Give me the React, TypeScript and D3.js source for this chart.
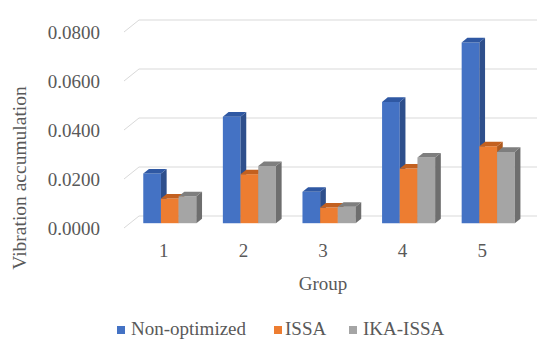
import React from "react";
import * as d3 from "d3";

const categories = ["1", "2", "3", "4", "5"];
const seriesNames = ["Non-optimized", "ISSA", "IKA-ISSA"];
const nonOptimized = [0.0203, 0.0435, 0.0128, 0.0495, 0.0738];
const issa = [0.0101, 0.0200, 0.0064, 0.0223, 0.0314];
const ikaIssa = [0.0110, 0.0233, 0.0067, 0.0268, 0.0291];
const yTicks = [0, 0.02, 0.04, 0.06, 0.08];

const seriesValues = [nonOptimized, issa, ikaIssa];
const frontColors = ["#4472C4", "#ED7D31", "#A5A5A5"];
const topColors = ["#2F58A3", "#C3601F", "#7E7E7E"];
const sideColors = ["#2E4F8C", "#AE5A20", "#6E6E6E"];

const W = 550;
const H = 346;
const TEXT = "#595959";
const textStyle: React.CSSProperties = { fontFamily: "Liberation Serif, Times New Roman, DejaVu Serif, serif" };

// oblique projection parameters
const floorLeft = 124;
const floorRight = 522;
const floorFrontY = 228;
const depthDX = 15;
const depthDY = 12;
const barDepthA = 0.4;
const barDepthB = 0.78;

export default function App() {
  const x = d3.scaleBand<string>().domain(categories).range([floorLeft, floorRight]).padding(0);
  const sub = d3
    .scaleBand<string>()
    .domain(seriesNames)
    .range([0, x.bandwidth()])
    .paddingInner(0)
    .paddingOuter(0.75);
  const y = d3.scaleLinear().domain([0, 0.08]).range([0, 196]);

  const proj = (px: number, v: number, f: number): [number, number] => [
    px + depthDX * f,
    floorFrontY - depthDY * f - y(v),
  ];
  const pts = (arr: [number, number][]) => arr.map((p) => p.join(",")).join(" ");

  const bars: React.ReactNode[] = [];
  categories.forEach((c, ci) => {
    seriesNames.forEach((s, si) => {
      const v = seriesValues[si][ci];
      const x0 = (x(c) as number) + (sub(s) as number);
      const x1 = x0 + sub.bandwidth();
      const a = barDepthA;
      const b = barDepthB;
      const front = [proj(x0, 0, a), proj(x1, 0, a), proj(x1, v, a), proj(x0, v, a)] as [number, number][];
      const side = [proj(x1, 0, a), proj(x1, 0, b), proj(x1, v, b), proj(x1, v, a)] as [number, number][];
      const top = [proj(x0, v, a), proj(x1, v, a), proj(x1, v, b), proj(x0, v, b)] as [number, number][];
      bars.push(
        <g key={`${ci}-${si}`}>
          <polygon points={pts(front)} fill={frontColors[si]} />
          <polygon points={pts(side)} fill={sideColors[si]} />
          <polygon points={pts(top)} fill={topColors[si]} />
        </g>
      );
    });
  });

  const legendX = [117, 274, 349];
  const legendTextX = [131, 285, 363];

  return (
    <svg
      width={W}
      height={H}
      style={{ position: "absolute", left: 0, top: 0, background: "#fff" }}
    >
      <rect x={0} y={0} width={W} height={H} fill="#fff" />
      {yTicks.map((t) => {
        const [fx, fy] = proj(floorLeft, t, 0);
        const [bx, by] = proj(floorLeft, t, 1);
        const [ex] = proj(floorRight, t, 1);
        return (
          <g key={t}>
            <polyline
              points={pts([[fx, fy], [bx, by], [ex, by]])}
              fill="none"
              stroke="#D9D9D9"
              strokeWidth={1}
            />
            <text x={100} y={fy + 7} textAnchor="end" fontSize={19} fill={TEXT} style={textStyle}>
              {d3.format(".4f")(t)}
            </text>
          </g>
        );
      })}
      {bars}
      {categories.map((c) => (
        <text
          key={c}
          x={(x(c) as number) + x.bandwidth() / 2}
          y={257}
          textAnchor="middle"
          fontSize={19}
          fill={TEXT}
          style={textStyle}
        >
          {c}
        </text>
      ))}
      <text x={(floorLeft + floorRight) / 2} y={290} textAnchor="middle" fontSize={19} fill={TEXT} style={textStyle}>
        Group
      </text>
      <text
        transform={`translate(26,178) rotate(-90)`}
        textAnchor="middle"
        fontSize={19.5}
        fill={TEXT}
        style={textStyle}
      >
        Vibration accumulation
      </text>
      {seriesNames.map((s, i) => (
        <g key={s}>
          <rect x={legendX[i]} y={326} width={8} height={8} fill={frontColors[i]} />
          <text x={legendTextX[i]} y={335} fontSize={19} fill={TEXT} style={textStyle}>
            {s}
          </text>
        </g>
      ))}
    </svg>
  );
}
